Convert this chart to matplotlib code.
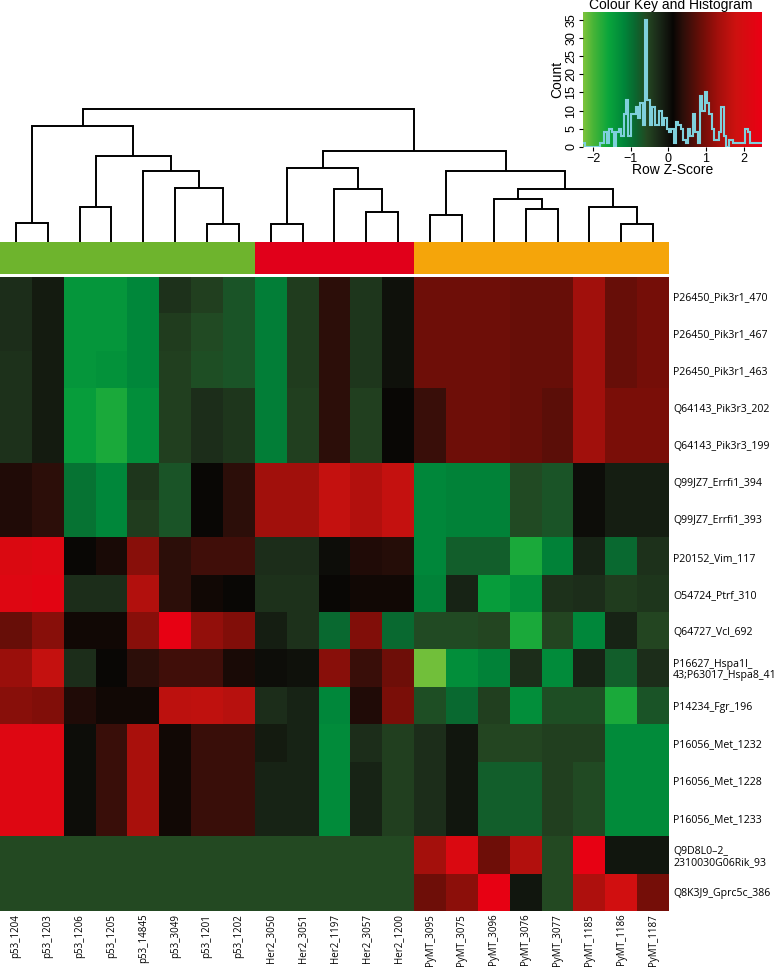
import numpy as np
import matplotlib
matplotlib.use("Agg")
import matplotlib.pyplot as plt
from matplotlib.colors import LinearSegmentedColormap, ListedColormap

# samples (columns, in dendrogram order)
col_labels = ["p53_1204", "p53_1203", "p53_1206", "p53_1205", "p53_14845", "p53_3049",
              "p53_1201", "p53_1202", "Her2_3050", "Her2_3051", "Her2_1197", "Her2_3057",
              "Her2_1200", "PyMT_3095", "PyMT_3075", "PyMT_3096", "PyMT_3076", "PyMT_3077",
              "PyMT_1185", "PyMT_1186", "PyMT_1187"]
col_group = [0] * 8 + [1] * 5 + [2] * 8
group_colors = ["#6eb42d", "#e1001a", "#f5a50a"]

row_labels = ["P26450_Pik3r1_470", "P26450_Pik3r1_467", "P26450_Pik3r1_463",
              "Q64143_Pik3r3_202", "Q64143_Pik3r3_199", "Q99JZ7_Errfi1_394",
              "Q99JZ7_Errfi1_393", "P20152_Vim_117", "O54724_Ptrf_310", "Q64727_Vcl_692",
              "P16627_Hspa1l_\n43;P63017_Hspa8_41", "P14234_Fgr_196", "P16056_Met_1232",
              "P16056_Met_1228", "P16056_Met_1233", "Q9D8L0\u20132_\n2310030G06Rik_93",
              "Q8K3J9_Gprc5c_386"]

# row z-scores
zscores = [
    [-0.3, -0.1, -1.4, -1.4, -1.2, -0.35, -0.5, -0.7, -1.1, -0.45, 0.4, -0.4, 0.0, 0.9, 0.9, 0.9, 0.85, 0.85, 1.3, 0.85, 0.95],
    [-0.3, -0.1, -1.4, -1.4, -1.2, -0.45, -0.6, -0.7, -1.1, -0.45, 0.4, -0.4, 0.0, 0.9, 0.9, 0.9, 0.85, 0.85, 1.3, 0.85, 0.95],
    [-0.35, -0.1, -1.4, -1.35, -1.2, -0.5, -0.65, -0.7, -1.1, -0.45, 0.4, -0.4, 0.0, 0.9, 0.9, 0.9, 0.85, 0.85, 1.3, 0.85, 0.95],
    [-0.35, -0.1, -1.5, -1.7, -1.3, -0.5, -0.3, -0.4, -1.1, -0.5, 0.4, -0.5, 0.1, 0.5, 0.9, 0.9, 0.85, 0.75, 1.3, 1.0, 1.0],
    [-0.35, -0.1, -1.5, -1.7, -1.3, -0.5, -0.3, -0.4, -1.1, -0.5, 0.4, -0.5, 0.1, 0.5, 0.9, 0.9, 0.85, 0.75, 1.3, 1.0, 1.0],
    [0.3, 0.4, -1.0, -1.2, -0.4, -0.7, 0.1, 0.4, 1.3, 1.3, 1.7, 1.5, 1.7, -1.2, -1.15, -1.15, -0.6, -0.7, 0.05, -0.15, -0.15],
    [0.3, 0.4, -1.0, -1.2, -0.45, -0.7, 0.1, 0.4, 1.3, 1.3, 1.7, 1.5, 1.7, -1.2, -1.15, -1.15, -0.6, -0.7, 0.05, -0.15, -0.15],
    [2.1, 2.2, 0.1, 0.25, 1.1, 0.4, 0.55, 0.55, -0.3, -0.3, 0.05, 0.3, 0.35, -1.2, -0.8, -0.8, -1.7, -1.15, -0.2, -0.9, -0.35],
    [2.2, 2.3, -0.3, -0.3, 1.5, 0.4, 0.2, 0.1, -0.35, -0.35, 0.1, 0.2, 0.2, -1.15, -0.2, -1.5, -1.3, -0.35, -0.3, -0.45, -0.4],
    [0.85, 1.1, 0.2, 0.2, 1.1, 2.4, 1.2, 1.05, -0.15, -0.35, -0.9, 1.05, -0.9, -0.6, -0.6, -0.55, -1.7, -0.55, -1.2, -0.2, -0.55],
    [1.25, 1.7, -0.3, 0.1, 0.4, 0.55, 0.55, 0.25, 0.05, 0.0, 1.1, 0.5, 0.9, -2.2, -1.3, -1.15, -0.3, -1.25, -0.2, -0.8, -0.3],
    [1.1, 1.05, 0.3, 0.2, 0.2, 1.6, 1.65, 1.55, -0.3, -0.2, -1.2, 0.3, 1.0, -0.65, -0.9, -0.5, -1.3, -0.65, -0.65, -1.7, -0.7],
    [2.2, 2.2, 0.05, 0.5, 1.4, 0.2, 0.5, 0.5, -0.1, -0.2, -1.25, -0.3, -0.5, -0.3, -0.05, -0.55, -0.55, -0.5, -0.5, -1.25, -1.25],
    [2.2, 2.2, 0.05, 0.5, 1.4, 0.2, 0.5, 0.5, -0.2, -0.2, -1.25, -0.2, -0.5, -0.3, -0.05, -0.8, -0.8, -0.5, -0.6, -1.25, -1.25],
    [2.2, 2.2, 0.05, 0.5, 1.4, 0.2, 0.5, 0.5, -0.2, -0.2, -1.25, -0.2, -0.5, -0.3, -0.05, -0.8, -0.8, -0.5, -0.6, -1.25, -1.25],
    [-0.58] * 13 + [1.35, 2.1, 0.9, 1.5, -0.58, 2.4, -0.05, -0.05],
    [-0.58] * 13 + [0.9, 1.15, 2.4, -0.05, -0.58, 1.45, 1.9, 0.95],
]

# column dendrogram: (left, right, height); leaves 0..20, merge k creates node 21+k
merges = [
    (0, 1, 19.3), (2, 3, 34.7), (6, 7, 17.7), (5, 23, 54.3), (4, 24, 71.0),
    (22, 25, 86.3), (21, 26, 116.3), (8, 9, 18.3), (11, 12, 29.7), (10, 29, 53.0),
    (28, 30, 74.3), (13, 14, 27.0), (16, 17, 33.0), (15, 33, 42.7), (19, 20, 18.3),
    (18, 35, 34.7), (34, 36, 53.3), (32, 37, 71.0), (31, 38, 91.0), (27, 39, 133.0),
]

# colour key histogram
z_min, z_max = -2.27, 2.49
hist_counts = [1, 0, 0, 0, 0, 0, 0, 1, 1, 4, 1, 5, 4, 0, 4, 5, 3, 9, 13, 3,
               9, 9, 11, 8, 12, 6, 35, 13, 6, 11, 6, 6, 10, 6, 8, 5, 4, 5, 1, 7,
               6, 5, 2, 1, 5, 3, 9, 4, 1, 14, 10, 15, 12, 9, 5, 2, 2, 4, 11, 3,
               0, 2, 2, 1, 1, 1, 1, 1, 5, 4, 1, 1, 1, 1, 1]

stops = [(-2.27, (125, 195, 60)), (-2.0, (70, 180, 55)), (-1.6, (10, 165, 60)),
         (-1.2, (0, 135, 58)), (-0.9, (10, 105, 48)), (-0.58, (36, 72, 34)),
         (-0.3, (28, 45, 26)), (0.0, (16, 18, 12)), (0.12, (8, 6, 4)),
         (0.4, (45, 15, 10)), (0.9, (110, 14, 8)), (1.3, (160, 16, 12)),
         (1.8, (205, 18, 16)), (2.49, (235, 0, 20))]
cmap = LinearSegmentedColormap.from_list(
    "gr", [((v - z_min) / (z_max - z_min), tuple(c / 255 for c in rgb)) for v, rgb in stops])

W, H = 778, 972
fig = plt.figure(figsize=(W / 100, H / 100), dpi=100)

def px_axes(x0, y0, x1, y1):
    return fig.add_axes([x0 / W, 1 - y1 / H, (x1 - x0) / W, (y1 - y0) / H])

label_font = "Open Sans"
ncol, nrow = len(col_labels), len(row_labels)

# heatmap
ax = px_axes(0, 277, 669, 911)
ax.imshow(np.array(zscores), cmap=cmap, vmin=z_min, vmax=z_max, aspect="auto",
          interpolation="nearest", extent=(0, ncol, nrow, 0))
ax.set_xlim(0, ncol)
ax.set_ylim(nrow, 0)
ax.yaxis.tick_right()
ax.set_yticks(np.arange(nrow) + 0.5)
ax.set_yticklabels(row_labels, fontsize=7.6, family=label_font, linespacing=1.05)
ax.set_xticks(np.arange(ncol) + 0.5)
ax.set_xticklabels(col_labels, rotation=90, fontsize=7.0, family=label_font)
ax.tick_params(axis="y", length=0, pad=3)
ax.tick_params(axis="x", length=0, pad=2)
for s in ax.spines.values():
    s.set_visible(False)

# column side colours
axc = px_axes(0, 242, 669, 274)
axc.imshow(np.array([col_group]), cmap=ListedColormap(group_colors), vmin=0, vmax=2,
           aspect="auto", interpolation="nearest", extent=(0, ncol, 1, 0))
axc.set_axis_off()

# dendrogram
axd = px_axes(0, 100, 669, 242)
xpos = {i: i + 0.5 for i in range(ncol)}
hgt = {i: 0.0 for i in range(ncol)}
for k, (a, b, h) in enumerate(merges):
    xa, xb = xpos[a], xpos[b]
    axd.plot([xa, xa, xb, xb], [hgt[a], h, h, hgt[b]], color="black", lw=1.4,
             solid_joinstyle="miter", solid_capstyle="butt")
    xpos[ncol + k] = (xa + xb) / 2
    hgt[ncol + k] = h
axd.set_xlim(0, ncol)
axd.set_ylim(0, 142)
axd.set_axis_off()

# colour key and histogram
axk = px_axes(583, 12, 762, 147)
grad = np.linspace(z_min, z_max, 400)[None, :]
axk.imshow(grad, cmap=cmap, vmin=z_min, vmax=z_max, aspect="auto",
           extent=(z_min, z_max, 0, 37.1), origin="lower")
edges = np.linspace(z_min, z_max, len(hist_counts) + 1)
axk.stairs(hist_counts, edges, color="#7fd0dc", lw=1.5, baseline=None)
axk.set_xlim(z_min, z_max)
axk.set_ylim(0, 37.1)
axk.set_xticks([-2, -1, 0, 1, 2])
axk.set_yticks(range(0, 36, 5))
kfont = "Liberation Sans"
axk.set_xticklabels(["\u22122", "\u22121", "0", "1", "2"], fontsize=9, family=kfont)
axk.set_yticklabels([str(v) for v in range(0, 36, 5)], fontsize=9, family=kfont,
                    rotation=90, va="center")
axk.tick_params(length=3, width=0.8, pad=1)
for s in axk.spines.values():
    s.set_visible(False)
axk.set_xlabel("Row Z-Score", fontsize=10, family=kfont, labelpad=-1)
axk.set_ylabel("Count", fontsize=10, family=kfont, labelpad=1)
fig.text(671 / W, 1 - 9.5 / H, "Colour Key and Histogram", ha="center", va="baseline",
         fontsize=10, family=kfont)

fig.savefig("out.png", dpi=100)
